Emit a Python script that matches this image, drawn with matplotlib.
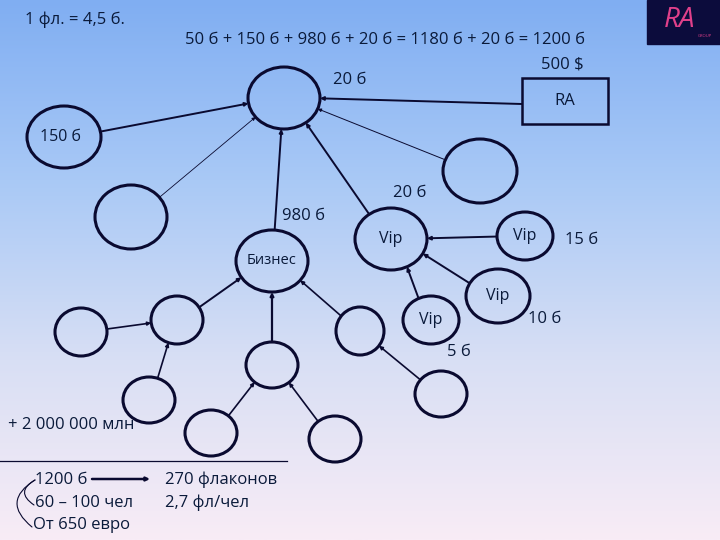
import numpy as np
import matplotlib.pyplot as plt
from matplotlib.patches import Ellipse, Rectangle
from matplotlib.colors import LinearSegmentedColormap

plt.rcParams['font.family'] = ['Open Sans', 'DejaVu Sans']

# узлы: имя, x, y, rx, ry, подпись
node_names = ['top', 'n150', 'left', 'right', 'biz', 'vip1', 'vip2', 'vip3', 'vip4',
              'a', 'b', 'c', 'd', 'e', 'f', 'g', 'h']
node_x = [284, 64, 131, 480, 272, 391, 525, 431, 498, 81, 177, 149, 272, 211, 335, 360, 441]
node_y = [98, 137, 217, 171, 261, 239, 236, 320, 296, 332, 320, 400, 365, 433, 439, 331, 394]
node_rx = [36, 37, 36, 37, 36, 36, 28, 28, 32, 26, 26, 26, 26, 26, 26, 24, 26]
node_ry = [31, 31, 32, 32, 31, 31, 24, 24, 27, 24, 24, 23, 23, 23, 23, 24, 23]
node_labels = ['', '150 б', '', '', 'Бизнес', 'Vip', 'Vip', 'Vip', 'Vip',
               '', '', '', '', '', '', '', '']

# связи: от ребёнка к родителю, толщина
edges = [('n150', 'top', 1.4), ('left', 'top', 0.6), ('biz', 'top', 1.4),
         ('vip1', 'top', 1.4), ('right', 'top', 0.7),
         ('vip2', 'vip1', 1.4), ('vip3', 'vip1', 1.4), ('vip4', 'vip1', 1.4),
         ('b', 'biz', 1.4), ('a', 'b', 1.2), ('c', 'b', 1.2), ('d', 'biz', 1.6),
         ('e', 'd', 1.2), ('f', 'd', 1.2), ('g', 'biz', 1.2), ('h', 'g', 1.2)]

fig = plt.figure(figsize=(7.2, 5.4), dpi=100)
ax = fig.add_axes([0, 0, 1, 1])
ax.set_xlim(0, 720)
ax.set_ylim(540, 0)
ax.axis('off')

cmap = LinearSegmentedColormap.from_list('bg', ['#80aef2', '#a9c9f6', '#d8dff4', '#f8ecf6'])
grad = np.linspace(0, 1, 256).reshape(-1, 1)
ax.imshow(grad, cmap=cmap, extent=[0, 720, 540, 0], aspect='auto', zorder=0)

pos = {n: (x, y, rx, ry) for n, x, y, rx, ry in zip(node_names, node_x, node_y, node_rx, node_ry)}


def border(n, tx, ty):
    x, y, rx, ry = pos[n]
    a = np.arctan2(ty - y, tx - x)
    return x + rx * np.cos(a), y + ry * np.sin(a)


for c, p, lw in edges:
    cx, cy = pos[c][:2]
    px, py = pos[p][:2]
    s = border(c, px, py)
    e = border(p, cx, cy)
    ax.annotate('', xy=e, xytext=s,
                arrowprops=dict(arrowstyle='-|>', lw=lw, color='#0a0a30',
                                mutation_scale=5, shrinkA=0, shrinkB=0), zorder=2)

# RA прямоугольник
ax.add_patch(Rectangle((522, 78), 86, 46, fill=False, lw=1.8, ec='#0a0a30', zorder=3))
ax.annotate('', xy=border('top', 565, 101), xytext=(522, 104),
            arrowprops=dict(arrowstyle='-|>', lw=1.4, color='#0a0a30',
                            mutation_scale=5, shrinkA=0, shrinkB=0), zorder=2)
ax.text(565, 101, 'RA', ha='center', va='center', fontsize=12, color='#0a1a3a')

for n, lab in zip(node_names, node_labels):
    x, y, rx, ry = pos[n]
    ax.add_patch(Ellipse((x, y), 2 * rx, 2 * ry, fill=False, lw=2.2, ec='#0a0a30', zorder=3))
    if lab:
        ax.text(x - (4 if n == 'n150' else 0), y, lab, ha='center', va='center',
                fontsize=10.5 if n == 'biz' else 11.5, color='#0a1a3a', zorder=4)

txt = dict(fontsize=12, color='#0a1a3a', va='center')
ax.text(25, 20, '1 фл. = 4,5 б.', **txt)
ax.text(385, 40, '50 б + 150 б + 980 б + 20 б = 1180 б + 20 б = 1200 б', ha='center', **txt)
ax.text(562, 65, '500 $', ha='center', **txt)
ax.text(333, 80, '20 б', **txt)
ax.text(282, 216, '980 б', **txt)
ax.text(393, 193, '20 б', **txt)
ax.text(565, 240, '15 б', **txt)
ax.text(528, 319, '10 б', **txt)
ax.text(447, 352, '5 б', **txt)
ax.text(8, 425, '+ 2 000 000 млн', **txt)
ax.plot([0, 287], [461, 461], color='#0a0a30', lw=0.9)
ax.text(35, 480, '1200 б', **txt)
ax.text(35, 503, '60 – 100 чел', **txt)
ax.text(33, 525, 'От 650 евро', **txt)
ax.text(165, 480, '270 флаконов', **txt)
ax.text(165, 503, '2,7 фл/чел', **txt)
ax.annotate('', xy=(150, 479), xytext=(92, 479),
            arrowprops=dict(arrowstyle='-|>', lw=1.8, color='#0a0a30', mutation_scale=5,
                            shrinkA=0, shrinkB=0))
ax.annotate('', xy=(34, 505), xytext=(35, 480),
            arrowprops=dict(arrowstyle='-', lw=0.8, color='#0a0a30',
                            connectionstyle='arc3,rad=0.8', shrinkA=0, shrinkB=0))
ax.annotate('', xy=(32, 527), xytext=(35, 480),
            arrowprops=dict(arrowstyle='-', lw=0.8, color='#0a0a30',
                            connectionstyle='arc3,rad=0.7', shrinkA=0, shrinkB=0))

# логотип
ax.add_patch(Rectangle((647, 0), 73, 44, color='#0c0c3c', zorder=3))
ax.text(680, 20, 'RA', ha='center', va='center', fontsize=20, color='#e0408a',
        fontstyle='italic', zorder=4)
ax.text(705, 36, 'GROUP', ha='center', va='center', fontsize=3, color='#e0408a', zorder=4)

fig.savefig('out.png', dpi=100)
